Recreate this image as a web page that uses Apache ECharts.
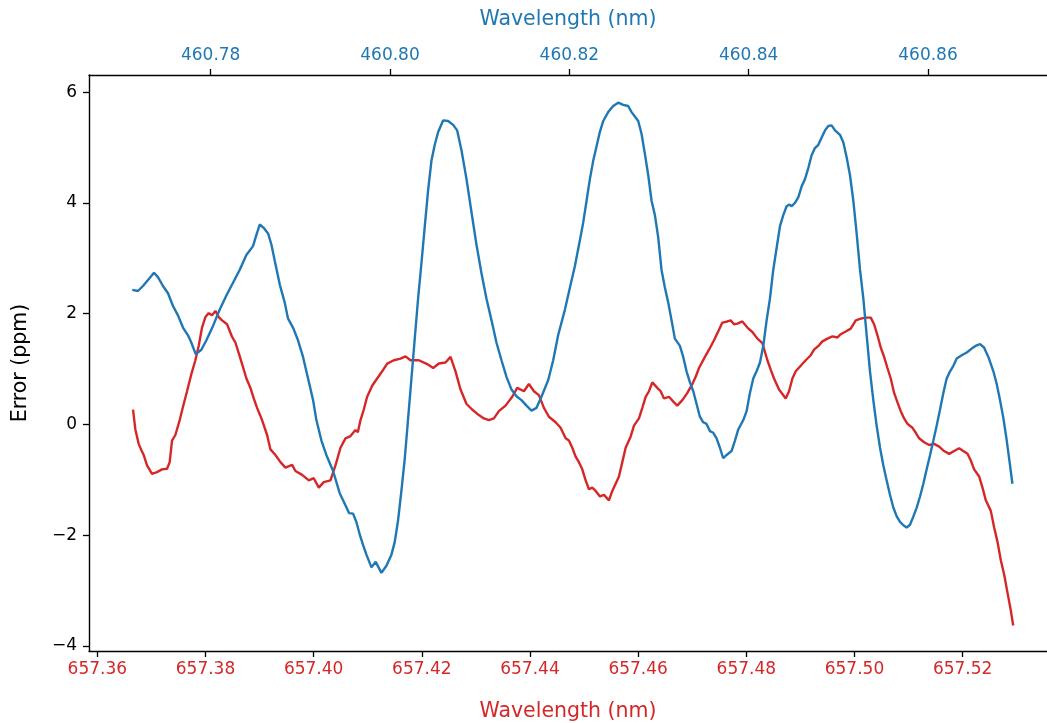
<!DOCTYPE html>
<html>
<head>
<meta charset="utf-8">
<title>Error vs wavelength</title>
<script src="https://cdn.jsdelivr.net/npm/echarts@6/dist/echarts.min.js"></script>
<style>
  html, body { margin: 0; padding: 0; background: #fff; }
  #chart { width: 1047px; height: 723px; }
</style>
</head>
<body>
<div id="chart"></div>
<script>
// Red trace: error against the 657 nm wavelength scale (bottom axis)
const redWavelength = [
  657.36660, 657.36703, 657.36765, 657.36808, 657.36857, 657.36919, 657.37011, 657.37104, 657.37196, 657.37289,
  657.37338, 657.37381, 657.37443, 657.37523, 657.37597, 657.37659, 657.37733, 657.37813, 657.37875, 657.37936,
  657.37998, 657.38060, 657.38121, 657.38183, 657.38245, 657.38306, 657.38399, 657.38492, 657.38553, 657.38615,
  657.38677, 657.38757, 657.38831, 657.38892, 657.38954, 657.39046, 657.39139, 657.39201, 657.39293, 657.39386,
  657.39478, 657.39602, 657.39663, 657.39787, 657.39910, 657.40002, 657.40095, 657.40187, 657.40311, 657.40403,
  657.40496, 657.40588, 657.40681,
  657.40773, 657.40817, 657.40866, 657.40927, 657.40989, 657.41082, 657.41174, 657.41267, 657.41359, 657.41483,
  657.41606, 657.41698, 657.41791, 657.41945, 657.42099, 657.42210, 657.42315, 657.42438, 657.42531, 657.42623,
  657.42716, 657.42827, 657.42930, 657.43055, 657.43148, 657.43240, 657.43333, 657.43425, 657.43548, 657.43672,
  657.43764, 657.43888, 657.43980, 657.44073, 657.44165, 657.44258, 657.44350, 657.44474, 657.44566, 657.44659,
  657.44720, 657.44782, 657.44844, 657.44905, 657.44967, 657.45029, 657.45090, 657.45152, 657.45214, 657.45294,
  657.45368, 657.45460, 657.45522, 657.45584, 657.45645, 657.45707, 657.45769, 657.45861, 657.45923, 657.46015,
  657.46077, 657.46139, 657.46200, 657.46262, 657.46354, 657.46416, 657.46478, 657.46570, 657.46663, 657.46724,
  657.46817, 657.46910, 657.47002, 657.47064, 657.47125, 657.47218, 657.47310, 657.47403, 657.47495, 657.47557,
  657.47650, 657.47711, 657.47773, 657.47835, 657.47927, 657.48020, 657.48112, 657.48205, 657.48297, 657.48390,
  657.48451, 657.48513, 657.48605,
  657.48729, 657.48790, 657.48852, 657.48914, 657.49006, 657.49099, 657.49191, 657.49253, 657.49345, 657.49407,
  657.49500, 657.49592, 657.49685, 657.49746, 657.49839, 657.49931, 657.50024, 657.50116, 657.50209, 657.50301,
  657.50363, 657.50425, 657.50486, 657.50548, 657.50610, 657.50671, 657.50733, 657.50795, 657.50856, 657.50918,
  657.50980, 657.51072, 657.51134, 657.51195, 657.51288, 657.51381, 657.51473, 657.51566, 657.51658, 657.51751,
  657.51843, 657.51936, 657.51997, 657.52090, 657.52151, 657.52213, 657.52306, 657.52367, 657.52429, 657.52521,
  657.52583, 657.52645, 657.52706, 657.52768, 657.52830, 657.52891, 657.52935
];
const redError = [
  0.27, -0.09, -0.35, -0.45, -0.55, -0.74, -0.89, -0.86, -0.81, -0.80,
  -0.68, -0.29, -0.19, 0.08, 0.37, 0.60, 0.89, 1.16, 1.42, 1.75,
  1.94, 2.01, 1.97, 2.05, 1.94, 1.88, 1.81, 1.58, 1.48, 1.29,
  1.09, 0.83, 0.66, 0.47, 0.30, 0.08, -0.19, -0.45, -0.55, -0.68,
  -0.78, -0.73, -0.84, -0.91, -1.01, -0.97, -1.14, -1.04, -1.01, -0.74,
  -0.42, -0.25, -0.21,
  -0.10, -0.14, 0.08, 0.27, 0.50, 0.70, 0.83, 0.96, 1.10, 1.16,
  1.19, 1.23, 1.16, 1.16, 1.09, 1.02, 1.10, 1.12, 1.22, 0.96,
  0.63, 0.37, 0.27, 0.17, 0.11, 0.08, 0.11, 0.24, 0.34, 0.50,
  0.66, 0.60, 0.73, 0.60, 0.53, 0.30, 0.14, 0.04, -0.06, -0.25,
  -0.29, -0.42, -0.58, -0.68, -0.81, -1.01, -1.17, -1.14, -1.20, -1.30,
  -1.27, -1.37, -1.20, -1.07, -0.94, -0.68, -0.42, -0.22, -0.02, 0.11,
  0.30, 0.50, 0.60, 0.76, 0.66, 0.60, 0.47, 0.50, 0.40, 0.34,
  0.44, 0.57, 0.73, 0.86, 1.02, 1.19, 1.35, 1.52, 1.71, 1.84,
  1.86, 1.88, 1.81, 1.82, 1.86, 1.75, 1.67, 1.55, 1.47, 1.16,
  0.99, 0.83, 0.63,
  0.47, 0.60, 0.83, 0.96, 1.06, 1.16, 1.25, 1.35, 1.43, 1.50,
  1.55, 1.59, 1.57, 1.63, 1.68, 1.73, 1.88, 1.91, 1.93, 1.93,
  1.81, 1.61, 1.39, 1.22, 1.02, 0.83, 0.57, 0.40, 0.24, 0.11,
  0.01, -0.06, -0.15, -0.25, -0.32, -0.37, -0.35, -0.40, -0.48, -0.53,
  -0.48, -0.43, -0.47, -0.53, -0.65, -0.81, -0.94, -1.14, -1.37, -1.56,
  -1.86, -2.12, -2.45, -2.71, -3.04, -3.36, -3.63
];

// Blue trace: error against the 460 nm wavelength scale (top axis)
const blueWavelength = [
  460.77126, 460.77189, 460.77245, 460.77301, 460.77368, 460.77412, 460.77468, 460.77524, 460.77580, 460.77635,
  460.77691, 460.77747, 460.77784, 460.77833, 460.77896, 460.77952, 460.78026, 460.78100, 460.78175, 460.78249,
  460.78323, 460.78398, 460.78472, 460.78509, 460.78547, 460.78591, 460.78640, 460.78677, 460.78714, 460.78770,
  460.78826, 460.78863, 460.78918, 460.78974, 460.79030, 460.79086, 460.79142, 460.79179, 460.79235, 460.79290,
  460.79365, 460.79439, 460.79495, 460.79543,
  460.79588, 460.79625, 460.79663, 460.79700, 460.79737, 460.79793, 460.79841, 460.79904, 460.79960, 460.80016,
  460.80053, 460.80090, 460.80127, 460.80165, 460.80202, 460.80239, 460.80276, 460.80313, 460.80351, 460.80388,
  460.80425, 460.80462, 460.80499, 460.80537, 460.80592, 460.80648, 460.80704, 460.80749, 460.80797, 460.80853,
  460.80908, 460.80964, 460.81020, 460.81076, 460.81132, 460.81187, 460.81243, 460.81299, 460.81355, 460.81410,
  460.81466, 460.81522, 460.81578, 460.81634, 460.81689, 460.81764, 460.81820, 460.81875,
  460.81950, 460.82006, 460.82062, 460.82117, 460.82154, 460.82192, 460.82229, 460.82266, 460.82303, 460.82340,
  460.82378, 460.82433, 460.82489, 460.82545, 460.82601, 460.82656, 460.82694, 460.82731, 460.82768, 460.82805,
  460.82842, 460.82880, 460.82917, 460.82954, 460.82991, 460.83028, 460.83066, 460.83103, 460.83140, 460.83177,
  460.83233, 460.83270, 460.83307, 460.83345, 460.83382, 460.83419, 460.83456, 460.83493, 460.83530, 460.83568,
  460.83605, 460.83642, 460.83679, 460.83716, 460.83754, 460.83809, 460.83847, 460.83884, 460.83940, 460.83977,
  460.84014, 460.84051, 460.84088, 460.84126, 460.84163, 460.84200, 460.84237, 460.84274, 460.84312, 460.84349,
  460.84386, 460.84423, 460.84453,
  460.84479, 460.84516, 460.84553, 460.84591, 460.84628, 460.84665, 460.84702, 460.84739, 460.84777, 460.84814,
  460.84851, 460.84888, 460.84925, 460.84963, 460.85018, 460.85056, 460.85093, 460.85130, 460.85167, 460.85204,
  460.85242, 460.85279, 460.85316, 460.85353, 460.85390, 460.85427, 460.85465, 460.85502, 460.85539, 460.85576,
  460.85613, 460.85651, 460.85688, 460.85725, 460.85762, 460.85799, 460.85837, 460.85874, 460.85911, 460.85948,
  460.85985, 460.86023, 460.86060, 460.86097, 460.86134, 460.86171, 460.86208, 460.86246, 460.86283, 460.86320,
  460.86376, 460.86432, 460.86487, 460.86543, 460.86580, 460.86625, 460.86673, 460.86729, 460.86766, 460.86803,
  460.86841, 460.86878, 460.86915, 460.86941
];
const blueError = [
  2.43, 2.41, 2.50, 2.61, 2.74, 2.66, 2.50, 2.37, 2.14, 1.97,
  1.75, 1.61, 1.48, 1.27, 1.35, 1.52, 1.78, 2.07, 2.33, 2.56,
  2.79, 3.06, 3.22, 3.42, 3.61, 3.55, 3.45, 3.25, 2.96, 2.53,
  2.20, 1.91, 1.75, 1.52, 1.22, 0.83, 0.44, 0.08, -0.29, -0.55,
  -0.84, -1.24, -1.43, -1.60,
  -1.61, -1.76, -1.99, -2.18, -2.35, -2.58, -2.48, -2.68, -2.55, -2.35,
  -2.12, -1.73, -1.20, -0.61, 0.11, 0.83, 1.55, 2.27, 2.92, 3.58,
  4.23, 4.76, 5.05, 5.28, 5.49, 5.48, 5.41, 5.31, 4.95, 4.43,
  3.84, 3.25, 2.73, 2.27, 1.88, 1.48, 1.16, 0.86, 0.63, 0.51,
  0.44, 0.34, 0.25, 0.30, 0.50, 0.80, 1.16, 1.61,
  2.07, 2.47, 2.86, 3.32, 3.64, 4.04, 4.43, 4.76, 5.02, 5.28,
  5.48, 5.64, 5.75, 5.81, 5.77, 5.75, 5.64, 5.56, 5.48, 5.25,
  4.89, 4.50, 4.04, 3.78, 3.38, 2.79, 2.47, 2.20, 1.88, 1.55,
  1.42, 1.22, 0.96, 0.76, 0.60, 0.37, 0.14, 0.04, 0.01, -0.12,
  -0.15, -0.25, -0.42, -0.61, -0.55, -0.48, -0.29, -0.09, 0.08, 0.24,
  0.57, 0.83, 0.96, 1.12, 1.42, 1.88, 2.27, 2.79, 3.19, 3.58,
  3.78, 3.94, 3.97,
  3.94, 4.00, 4.10, 4.30, 4.43, 4.63, 4.86, 4.99, 5.05, 5.18,
  5.31, 5.39, 5.40, 5.31, 5.23, 5.09, 4.82, 4.50, 4.04, 3.45,
  2.79, 2.27, 1.61, 0.96, 0.44, -0.02, -0.42, -0.74, -1.01, -1.27,
  -1.50, -1.66, -1.76, -1.82, -1.86, -1.81, -1.66, -1.50, -1.30, -1.07,
  -0.81, -0.55, -0.29, -0.02, 0.27, 0.57, 0.83, 0.96, 1.06, 1.19,
  1.25, 1.30, 1.37, 1.43, 1.45, 1.39, 1.22, 0.96, 0.73, 0.44,
  0.11, -0.29, -0.74, -1.07
];

// Tick positions for the three axes
const redTicks = [657.36, 657.38, 657.40, 657.42, 657.44, 657.46, 657.48, 657.50, 657.52];
const blueTicks = [460.78, 460.80, 460.82, 460.84, 460.86];
const errorTicks = [-4, -2, 0, 2, 4, 6];

const RED = '#d62728';
const BLUE = '#1f77b4';
const FONT = 'DejaVu Sans';

const zip = (xs, ys) => xs.map((x, i) => [x, ys[i]]);
const minusSign = v => (v < 0 ? '\u2212' + Math.abs(v) : String(v));

const chart = echarts.init(document.getElementById('chart'), null, { renderer: 'canvas' });

const tickStyle = { show: true, length: 6, lineStyle: { color: '#000', width: 1.3 } };

chart.setOption({
  animation: false,
  backgroundColor: '#ffffff',
  grid: { left: 89, right: 0, top: 75, bottom: 72, containLabel: false, outerBoundsMode: 'none' },
  xAxis: [
    {
      type: 'value',
      position: 'bottom',
      min: 657.35846,
      max: 657.5356,
      name: 'Wavelength (nm)',
      nameLocation: 'middle',
      nameGap: 50,
      nameTextStyle: { color: RED, fontFamily: FONT, fontSize: 20.5 },
      axisLine: { show: true, onZero: false, lineStyle: { color: '#000', width: 1.4 } },
      axisTick: Object.assign({ customValues: redTicks }, tickStyle),
      axisLabel: {
        customValues: redTicks,
        formatter: v => v.toFixed(2),
        color: RED, fontFamily: FONT, fontSize: 17, margin: 10
      },
      splitLine: { show: false }
    },
    {
      type: 'value',
      position: 'top',
      min: 460.76643,
      max: 460.87327,
      name: 'Wavelength (nm)',
      nameLocation: 'middle',
      nameGap: 45,
      nameTextStyle: { color: BLUE, fontFamily: FONT, fontSize: 20.5 },
      axisLine: { show: true, onZero: false, lineStyle: { color: '#000', width: 1.4 } },
      axisTick: Object.assign({ customValues: blueTicks }, tickStyle),
      axisLabel: {
        customValues: blueTicks,
        formatter: v => v.toFixed(2),
        color: BLUE, fontFamily: FONT, fontSize: 17, margin: 11
      },
      splitLine: { show: false }
    }
  ],
  yAxis: {
    type: 'value',
    min: -4.09,
    max: 6.31,
    name: 'Error (ppm)',
    nameLocation: 'middle',
    nameGap: 58,
    nameRotate: 90,
    nameTextStyle: { color: '#000', fontFamily: FONT, fontSize: 20.5 },
    axisLine: { show: true, onZero: false, lineStyle: { color: '#000', width: 1.4 } },
    axisTick: Object.assign({ customValues: errorTicks }, tickStyle),
    axisLabel: {
      customValues: errorTicks,
      formatter: minusSign,
      color: '#000', fontFamily: FONT, fontSize: 17, margin: 12
    },
    splitLine: { show: false }
  },
  series: [
    {
      name: 'red',
      type: 'line',
      xAxisIndex: 0,
      showSymbol: false,
      data: zip(redWavelength, redError),
      lineStyle: { color: RED, width: 2.4 },
      itemStyle: { color: RED },
      z: 2
    },
    {
      name: 'blue',
      type: 'line',
      xAxisIndex: 1,
      showSymbol: false,
      data: zip(blueWavelength, blueError),
      lineStyle: { color: BLUE, width: 2.4 },
      itemStyle: { color: BLUE },
      z: 3
    }
  ]
});
</script>
</body>
</html>
